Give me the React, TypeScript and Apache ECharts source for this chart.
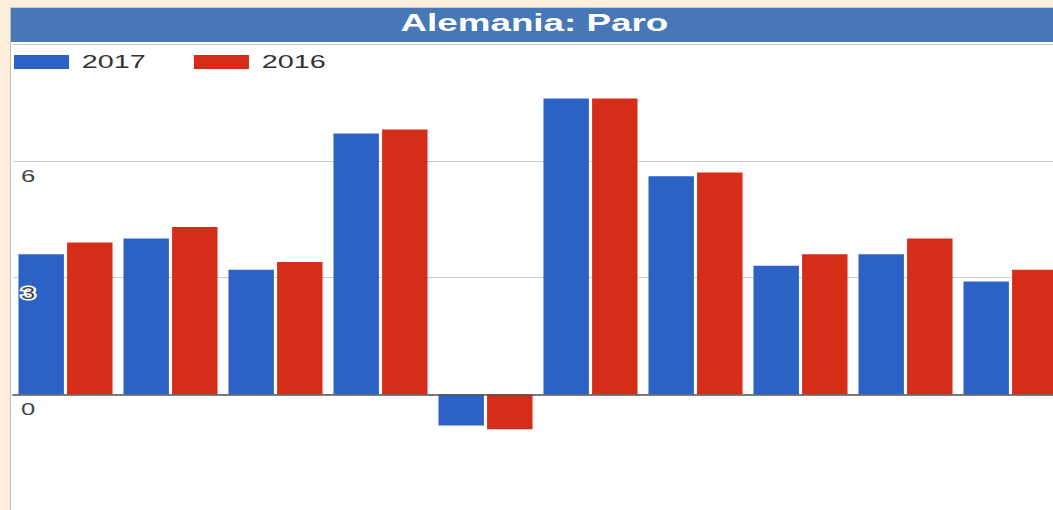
import React, { useEffect, useRef } from "react";
import * as echarts from "echarts";

const titleText = "Alemania: Paro";
const categories = ["1", "2", "3", "4", "5", "6", "7", "8", "9", "10"];
const seriesNames = ["2017", "2016"];
const values2017 = [3.6, 4.0, 3.2, 6.7, -0.8, 7.6, 5.6, 3.3, 3.6, 2.9];
const values2016 = [3.9, 4.3, 3.4, 6.8, -0.9, 7.6, 5.7, 3.6, 4.0, 3.2];
const yTickLabels = ["0", "3", "6"];
const yMin = -3;
const yMax = 9;
const yInterval = 3;

const SX = 1.6; // horizontal stretch of the reference picture
const FONT = "'Liberation Sans', Arial, sans-serif";

export default function App() {
  const ref = useRef<HTMLDivElement>(null);

  useEffect(() => {
    if (!ref.current) return;
    const chart = echarts.init(ref.current, undefined, { renderer: "svg" });
    const labelFmt = (v: number) => {
      const s = String(v);
      return yTickLabels.includes(s) ? s : "";
    };
    chart.setOption({
      animation: false,
      backgroundColor: "transparent",
      title: {
        text: titleText,
        left: 334,
        top: 12,
        padding: 0,
        textAlign: "center",
        textStyle: {
          color: "#ffffff",
          fontSize: 23,
          fontWeight: "bold",
          fontFamily: FONT,
        },
      },
      legend: {
        left: 8.75,
        top: 53,
        padding: 0,
        icon: "rect",
        itemWidth: 34.4,
        itemHeight: 14,
        itemGap: 30,
        data: seriesNames,
        textStyle: { fontSize: 18, color: "#333", fontFamily: FONT, padding: [0, 0, 0, 3] },
      },
      grid: { left: 8.125, top: 44, width: 656.25, height: 467, containLabel: false },
      xAxis: {
        type: "category",
        data: categories,
        axisTick: { show: false },
        axisLabel: { show: false },
        axisLine: { show: true, onZero: true, lineStyle: { color: "#555", width: 1.5 } },
        splitLine: { show: false },
        z: 5,
      },
      yAxis: [
        {
          type: "value",
          min: yMin,
          max: yMax,
          interval: yInterval,
          axisLine: { show: false },
          axisTick: { show: false },
          axisLabel: { show: false },
          splitLine: { show: true, lineStyle: { color: "#cccccc", width: 1 } },
        },
        {
          type: "value",
          min: yMin,
          max: yMax,
          interval: yInterval,
          position: "left",
          z: 10,
          axisLine: { show: false },
          axisTick: { show: false },
          splitLine: { show: false },
          axisLabel: {
            show: true,
            inside: true,
            margin: 5,
            verticalAlign: "top",
            padding: [8, 0, 0, 0],
            fontSize: 16,
            lineHeight: 16,
            color: "#444",
            fontFamily: FONT,
            textBorderColor: "#ffffff",
            textBorderWidth: 3,
            formatter: labelFmt,
          },
        },
      ],
      series: [
        {
          name: seriesNames[0],
          type: "bar",
          data: values2017,
          barWidth: 28.4,
          barGap: "7%",
          itemStyle: { color: "#2c62c5" },
          yAxisIndex: 0,
        },
        {
          name: seriesNames[1],
          type: "bar",
          data: values2016,
          barWidth: 28.4,
          barGap: "7%",
          itemStyle: { color: "#d62d19" },
          yAxisIndex: 0,
        },
      ],
    });
    return () => chart.dispose();
  }, []);

  return (
    <div
      style={{
        position: "fixed",
        left: 0,
        top: 0,
        width: 1053,
        height: 510,
        overflow: "hidden",
        background: "#fdeedc",
      }}
    >
      <div
        style={{
          position: "absolute",
          left: 10,
          top: 7,
          width: 1100,
          height: 600,
          background: "#ffffff",
          borderLeft: "1px solid #c2bdb8",
          borderTop: "1px solid #d6cbbf",
        }}
      />
      <div
        style={{
          position: "absolute",
          left: 11,
          top: 8,
          width: 1100,
          height: 34,
          background: "#4678b8",
        }}
      />
      <div
        ref={ref}
        style={{
          position: "absolute",
          left: 0,
          top: 0,
          width: 680,
          height: 540,
          transform: `scaleX(${SX})`,
          transformOrigin: "0 0",
        }}
      />
    </div>
  );
}
